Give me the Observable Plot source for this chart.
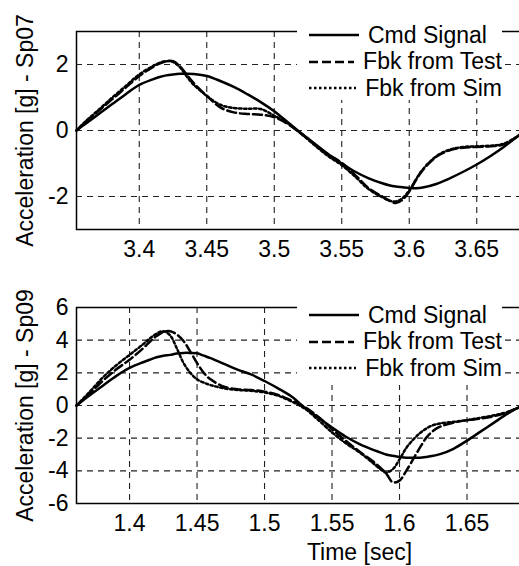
<!DOCTYPE html>
<html><head><meta charset="utf-8">
<script src="https://cdn.jsdelivr.net/npm/d3@7"></script>
<script src="https://cdn.jsdelivr.net/npm/@observablehq/plot@0.6"></script>
<style>
html,body{margin:0;padding:0;overflow:hidden;background:#fff;width:519px;height:566px}
.panel{position:relative;width:660px;height:auto}
.panel svg{display:block}
.legend{position:absolute;background:#fff;font:23px "Liberation Sans",Arial,sans-serif;color:#000;box-sizing:border-box;padding-left:12px}
.legend .row{display:flex;align-items:center;height:26.5px;white-space:nowrap}
.legend .row svg{display:block;margin-right:9px}
</style></head><body>
<div id="top" class="panel"></div>
<div id="bot" class="panel"></div>
<script>
const seriesNames = ["Cmd Signal", "Fbk from Test", "Fbk from Sim"];

// Panel 1 (Sp07)
const timeSp07 = [3.3535,3.36,3.37,3.38,3.39,3.40,3.41,3.415,3.42,3.425,3.43,3.435,3.44,3.45,3.46,3.47,3.48,3.49,3.50,3.51,3.52,3.53,3.54,3.55,3.56,3.57,3.58,3.585,3.59,3.595,3.60,3.605,3.61,3.62,3.63,3.64,3.65,3.66,3.67,3.685];
const cmdSp07  = [0,0.2,0.5,0.8,1.1,1.38,1.55,1.62,1.67,1.70,1.72,1.72,1.71,1.65,1.50,1.32,1.10,0.86,0.58,0.25,-0.08,-0.40,-0.72,-1.00,-1.25,-1.45,-1.60,-1.66,-1.70,-1.72,-1.74,-1.75,-1.73,-1.62,-1.45,-1.25,-1.03,-0.78,-0.50,-0.02];
const testSp07 = [0,0.25,0.6,0.95,1.3,1.65,1.92,2.03,2.10,2.10,1.95,1.70,1.45,1.05,0.70,0.55,0.50,0.48,0.40,0.20,-0.10,-0.42,-0.72,-0.98,-1.35,-1.75,-2.00,-2.12,-2.20,-2.10,-1.85,-1.50,-1.20,-0.80,-0.60,-0.52,-0.50,-0.48,-0.42,-0.05];
const simSp07  = [0,0.27,0.63,1.0,1.35,1.7,1.95,2.05,2.10,2.08,1.92,1.65,1.40,1.05,0.78,0.68,0.66,0.65,0.45,0.22,-0.10,-0.45,-0.78,-1.05,-1.40,-1.78,-2.02,-2.12,-2.15,-2.05,-1.82,-1.48,-1.18,-0.78,-0.58,-0.50,-0.48,-0.46,-0.40,-0.05];
const xTicksSp07 = [3.4,3.45,3.5,3.55,3.6,3.65];
const yTicksSp07 = [-2,0,2];

// Panel 2 (Sp09)
const timeSp09 = [1.3607,1.37,1.38,1.39,1.40,1.41,1.415,1.42,1.425,1.43,1.435,1.44,1.445,1.45,1.455,1.46,1.47,1.48,1.49,1.50,1.51,1.52,1.53,1.54,1.55,1.56,1.57,1.58,1.585,1.59,1.595,1.60,1.605,1.61,1.615,1.62,1.625,1.63,1.64,1.65,1.66,1.67,1.68,1.692];
const cmdSp09  = [0,0.6,1.2,1.8,2.3,2.65,2.8,2.95,3.05,3.1,3.18,3.22,3.22,3.2,3.05,2.9,2.55,2.2,1.9,1.5,1.05,0.55,-0.15,-0.75,-1.35,-1.9,-2.35,-2.7,-2.85,-3.0,-3.08,-3.15,-3.2,-3.2,-3.2,-3.15,-3.08,-2.98,-2.65,-2.15,-1.6,-1.05,-0.5,0.05];
const testSp09 = [0,0.7,1.5,2.2,2.8,3.5,3.9,4.25,4.5,4.55,4.35,3.95,3.3,2.6,2.0,1.6,1.15,1.0,0.95,0.85,0.65,0.3,-0.1,-0.7,-1.45,-2.15,-2.8,-3.4,-3.75,-4.15,-4.7,-4.6,-4.0,-3.3,-2.6,-1.95,-1.55,-1.3,-1.05,-0.9,-0.8,-0.65,-0.4,0.0];
const simSp09  = [0,0.8,1.7,2.45,3.1,3.75,4.1,4.4,4.55,4.3,3.5,2.6,2.0,1.6,1.4,1.25,1.05,0.95,0.9,0.8,0.6,0.25,-0.2,-0.9,-1.65,-2.3,-2.85,-3.5,-3.85,-4.1,-3.9,-3.3,-2.6,-2.1,-1.7,-1.4,-1.2,-1.1,-1.0,-0.9,-0.75,-0.6,-0.4,0.0];
const xTicksSp09 = [1.4,1.45,1.5,1.55,1.6,1.65];
const yTicksSp09 = [-6,-4,-2,0,2,4,6];

const dashes = [null, "9,4", "2.5,2.5"];
const fmt = d => String(+d.toFixed(2));
const FONT = '"Liberation Sans", Arial, sans-serif';

function rows(times, seriesVals) {
  const out = [];
  seriesVals.forEach((vals, si) => vals.forEach((v, i) => out.push({t: times[i], v, s: seriesNames[si]})));
  return out;
}

function panel(el, cfg) {
  const data = rows(cfg.times, cfg.series);
  const lines = seriesNames.map((name, i) =>
    Plot.line(data.filter(d => d.s === name), {
      x: "t", y: "v", stroke: "#000", strokeWidth: 2.5,
      strokeDasharray: dashes[i] || undefined, curve: "catmull-rom"
    }));
  const chart = Plot.plot({
    width: 660, height: cfg.height,
    marginLeft: 76, marginRight: 18, marginTop: cfg.mTop, marginBottom: cfg.mBottom,
    style: {fontFamily: FONT, fontSize: "23px", background: "#fff", color: "#000"},
    x: {domain: cfg.xDomain},
    y: {domain: cfg.yDomain},
    marks: [
      Plot.gridX(cfg.xTicks, {stroke: "#222", strokeOpacity: 1, strokeWidth: 1.1, strokeDasharray: "6,5"}),
      Plot.gridY(cfg.yTicks, {stroke: "#222", strokeOpacity: 1, strokeWidth: 1.1, strokeDasharray: "6,5"}),
      Plot.axisX(cfg.xTicks, {tickSize: 0, tickPadding: 11, tickFormat: fmt, fontSize: 23,
        label: cfg.xLabel, labelAnchor: "center", labelArrow: "none", labelOffset: 56}),
      Plot.axisY(cfg.yTicks, {tickSize: 0, tickPadding: 8, tickFormat: fmt, fontSize: 23,
        label: cfg.yLabel, labelAnchor: "center", labelArrow: "none", labelOffset: 60}),
      ...lines,
      Plot.frame({stroke: "#000", strokeWidth: 1.5})
    ]
  });
  el.appendChild(chart);
  const lg = document.createElement("div");
  lg.className = "legend";
  lg.style.left = "297px";
  lg.style.top = cfg.legendTop + "px";
  lg.style.width = "205px";
  lg.style.height = cfg.legendH + "px";
  seriesNames.forEach((name, i) => {
    const r = document.createElement("div");
    r.className = "row";
    r.innerHTML = `<svg width="50" height="6"><line x1="0" x2="50" y1="3" y2="3" stroke="#000" stroke-width="2.5" ${dashes[i] ? `stroke-dasharray="${dashes[i]}"` : ""}/></svg><span>${name}</span>`;
    lg.appendChild(r);
  });
  el.appendChild(lg);
}

panel(document.getElementById("top"), {
  times: timeSp07, series: [cmdSp07, testSp07, simSp07],
  xDomain: [3.3535, 3.7728], yDomain: [-3, 3], xTicks: xTicksSp07, yTicks: yTicksSp07,
  height: 269, mTop: 31, mBottom: 40, xLabel: null, yLabel: "Acceleration [g] - Sp07",
  legendTop: 22, legendH: 78
});
panel(document.getElementById("bot"), {
  times: timeSp09, series: [cmdSp09, testSp09, simSp09],
  xDomain: [1.3607, 1.78], yDomain: [-6, 6], xTicks: xTicksSp09, yTicks: yTicksSp09,
  height: 297, mTop: 38, mBottom: 63, xLabel: "Time [sec]", yLabel: "Acceleration [g] - Sp09",
  legendTop: 33, legendH: 83
});
</script>
</body></html>
